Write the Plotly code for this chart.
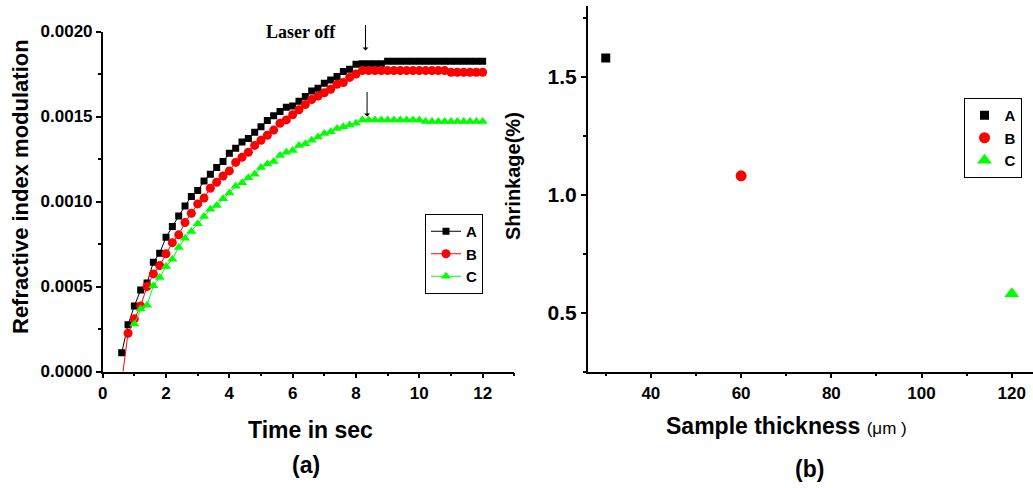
import plotly.graph_objects as go

# ---------------- data: panel (a) ----------------
time_A = [0.6, 0.8, 1.0, 1.2, 1.4, 1.6, 1.8, 2.0, 2.2, 2.4, 2.6, 2.8, 3.0, 3.2, 3.4,
          3.6, 3.8, 4.0, 4.2, 4.4, 4.6, 4.8, 5.0, 5.2, 5.4, 5.6, 5.8, 6.0, 6.2, 6.4,
          6.6, 6.8, 7.0, 7.2, 7.4, 7.6, 7.8, 8.0, 8.2, 8.4, 8.6, 8.8, 9.0, 9.2, 9.4,
          9.6, 9.8, 10.0, 10.2, 10.4, 10.6, 10.8, 11.0, 11.2, 11.4, 11.6, 11.8, 12.0]
mod_A = [0.00011, 0.000275, 0.000386, 0.00048, 0.00052, 0.000643, 0.000696, 0.00079,
         0.000853, 0.000915, 0.000974, 0.00103, 0.001064, 0.00112, 0.00116, 0.0012,
         0.001235, 0.001284, 0.001313, 0.00135, 0.00137, 0.001408, 0.00144, 0.001476,
         0.001505, 0.00153, 0.001554, 0.001562, 0.00159, 0.001617, 0.00165, 0.001666,
         0.001695, 0.001715, 0.001735, 0.001764, 0.001778, 0.001807, 0.00181, 0.00181,
         0.00181, 0.00181, 0.001825, 0.001825, 0.001825, 0.001825, 0.001825, 0.001825,
         0.001825, 0.001825, 0.001825, 0.001825, 0.001825, 0.001825, 0.001825, 0.001825,
         0.001825, 0.001825]

time_B = [0.6, 0.8, 1.0, 1.2, 1.4, 1.6, 1.8, 2.0, 2.2, 2.4, 2.6, 2.8, 3.0, 3.2, 3.4,
          3.6, 3.8, 4.0, 4.2, 4.4, 4.6, 4.8, 5.0, 5.2, 5.4, 5.6, 5.8, 6.0, 6.2, 6.4,
          6.6, 6.8, 7.0, 7.2, 7.4, 7.6, 7.8, 8.0, 8.2, 8.4, 8.6, 8.8, 9.0, 9.2, 9.4,
          9.6, 9.8, 10.0, 10.2, 10.4, 10.6, 10.8, 11.0, 11.2, 11.4, 11.6, 11.8, 12.0]
mod_B = [-0.00006, 0.000225, 0.00031, 0.000386, 0.0005, 0.000574, 0.000623, 0.000692,
         0.000758, 0.000804, 0.000876, 0.000931, 0.000986, 0.00102, 0.001078, 0.001113,
         0.00115, 0.00118, 0.00123, 0.00126, 0.00129, 0.00133, 0.00136, 0.00139,
         0.00142, 0.00146, 0.00148, 0.00151, 0.00154, 0.00157, 0.0016, 0.00162,
         0.00164, 0.00166, 0.00169, 0.0017, 0.00173, 0.00175, 0.00177, 0.00177,
         0.00177, 0.00177, 0.00177, 0.00177, 0.00177, 0.00177, 0.00177, 0.00177,
         0.00177, 0.00177, 0.00177, 0.00177, 0.00176, 0.00176, 0.00176, 0.00176,
         0.00176, 0.00176]

time_C = [1.0, 1.2, 1.4, 1.6, 1.8, 2.0, 2.2, 2.4, 2.6, 2.8, 3.0, 3.2, 3.4,
          3.6, 3.8, 4.0, 4.2, 4.4, 4.6, 4.8, 5.0, 5.2, 5.4, 5.6, 5.8, 6.0, 6.2, 6.4,
          6.6, 6.8, 7.0, 7.2, 7.4, 7.6, 7.8, 8.0, 8.2, 8.4, 8.6, 8.8, 9.0, 9.2, 9.4,
          9.6, 9.8, 10.0, 10.2, 10.4, 10.6, 10.8, 11.0, 11.2, 11.4, 11.6, 11.8, 12.0]
mod_C = [0.00028, 0.000367, 0.00039, 0.000504, 0.000553, 0.000618, 0.00066, 0.00073,
         0.000784, 0.000824, 0.000869, 0.000912, 0.000955, 0.000976, 0.001016, 0.00105,
         0.00109, 0.00111, 0.00114, 0.00116, 0.0012, 0.00122, 0.001235, 0.00127,
         0.00129, 0.0013, 0.00133, 0.00134, 0.00136, 0.00138, 0.0014, 0.00141,
         0.00143, 0.00144, 0.00145, 0.00146, 0.00148, 0.00148, 0.00148, 0.00148,
         0.00148, 0.00148, 0.00148, 0.00148, 0.00148, 0.00148, 0.00147, 0.00147,
         0.00147, 0.00147, 0.00147, 0.00147, 0.00147, 0.00147, 0.00147, 0.00147]

# ---------------- data: panel (b) ----------------
samples = ["A", "B", "C"]
thickness = [30, 60, 120]
shrinkage = [1.58, 1.08, 0.58]

colors = {"A": "#000000", "B": "#ff0000", "C": "#00ff00"}
symbols = {"A": "square", "B": "circle", "C": "triangle-up"}
sizes_a = {"A": 7, "B": 9, "C": 9}
sizes_b = {"A": 9, "B": 11, "C": 13}

W, H = 1033, 488
BOLD = dict(family="Liberation Sans, Arial, sans-serif", color="black", weight="bold")

fig = go.Figure()

series_a = [("A", time_A, mod_A), ("B", time_B, mod_B), ("C", time_C, mod_C)]
for name, t, v in series_a:
    fig.add_trace(go.Scatter(
        x=t, y=v, name=name, mode="lines+markers", xaxis="x", yaxis="y",
        line=dict(color=colors[name], width=1),
        marker=dict(symbol=symbols[name], size=sizes_a[name], color=colors[name]),
        legend="legend"))

for name, xt, ys in zip(samples, thickness, shrinkage):
    fig.add_trace(go.Scatter(
        x=[xt], y=[ys], name=name, mode="markers", xaxis="x2", yaxis="y2",
        marker=dict(symbol=symbols[name], size=sizes_b[name], color=colors[name]),
        legend="legend2"))

bottom = 1 - 371.5 / H
axis_common = dict(showline=True, linecolor="black", linewidth=1.5, ticks="outside",
                   ticklen=5, tickwidth=1.5, tickcolor="black", showgrid=False,
                   zeroline=False, mirror=False, automargin=False)

fig.update_layout(
    template="none",
    width=W, height=H, margin=dict(l=0, r=0, t=0, b=0, pad=0, autoexpand=False),
    paper_bgcolor="white", plot_bgcolor="white",
    xaxis=dict(domain=[102.7 / W, 514.3 / W], range=[0, 13], dtick=2, tick0=0,
               tickfont=dict(size=17, **BOLD),
               minor=dict(ticks="outside", ticklen=3, tickwidth=1.5, dtick=1, tickcolor="black"),
               anchor="y", **axis_common),
    yaxis=dict(domain=[bottom, 1 - 31.5 / H], range=[0, 0.002], dtick=0.0005, tick0=0,
               tickformat=".4f", tickfont=dict(size=17, **BOLD),
               minor=dict(ticks="outside", ticklen=3, tickwidth=1.5, dtick=0.00025, tickcolor="black"),
               anchor="x", **axis_common),
    xaxis2=dict(domain=[587.7 / W, 1.0], range=[26, 124.7], dtick=20, tick0=0,
                tickfont=dict(size=17, **BOLD),
                minor=dict(ticks="outside", ticklen=3, tickwidth=1.5, dtick=10, tickcolor="black"),
                anchor="y2", **axis_common),
    yaxis2=dict(domain=[bottom, 1 - 6 / H], range=[0.25, 1.8], dtick=0.5, tick0=0,
                tickformat=".1f", tickfont=dict(size=21, **BOLD),
                minor=dict(ticks="outside", ticklen=3, tickwidth=1.5, dtick=0.25, tickcolor="black"),
                anchor="x2", **axis_common),
    legend=dict(x=425 / W, y=1 - 214 / H, xanchor="left", yanchor="top",
                bordercolor="black", borderwidth=1, bgcolor="white",
                font=dict(size=15, **BOLD), tracegroupgap=0, itemwidth=30),
    legend2=dict(x=963.5 / W, y=1 - 98 / H, xanchor="left", yanchor="top",
                 bordercolor="black", borderwidth=1, bgcolor="white",
                 font=dict(size=15, **BOLD), tracegroupgap=0, itemwidth=30),
    showlegend=True,
)


def label(text, px, py, size, angle=0, font=None):
    f = font if font is not None else dict(size=size, **BOLD)
    return dict(text=text, x=px / W, y=1 - py / H, xref="paper", yref="paper",
                xanchor="center", yanchor="middle", showarrow=False,
                textangle=angle, font=f)


ann = [
    label("Refractive index modulation", 20, 187, 22, angle=-90),
    label("Time in sec", 310, 430, 23),
    label("(a)", 306, 465, 23),
    label("Shrinkage(%)", 513, 176, 20, angle=-90),
    label("Sample thickness <span style='font-weight:normal;font-size:17px'>(\u03bcm )</span>",
          786, 426, 23),
    label("(b)", 809, 469, 23),
    label("Laser off", 301, 32, 18,
          font=dict(size=18, family="Liberation Serif, Times New Roman, serif",
                    color="black", weight="bold")),
    # arrows marking laser switch-off
    dict(x=8.3, y=0.001888, xref="x", yref="y", ax=0, ay=-27, text="",
         showarrow=True, arrowhead=1, arrowsize=1, arrowwidth=1, arrowcolor="black"),
    dict(x=8.35, y=0.0015, xref="x", yref="y", ax=0, ay=-26, text="",
         showarrow=True, arrowhead=1, arrowsize=1, arrowwidth=1, arrowcolor="black"),
]
fig.update_layout(annotations=ann)

fig.write_html("out.html", config={"displayModeBar": False},
               post_script="document.body.style.margin='0';document.body.style.overflow='hidden';")
